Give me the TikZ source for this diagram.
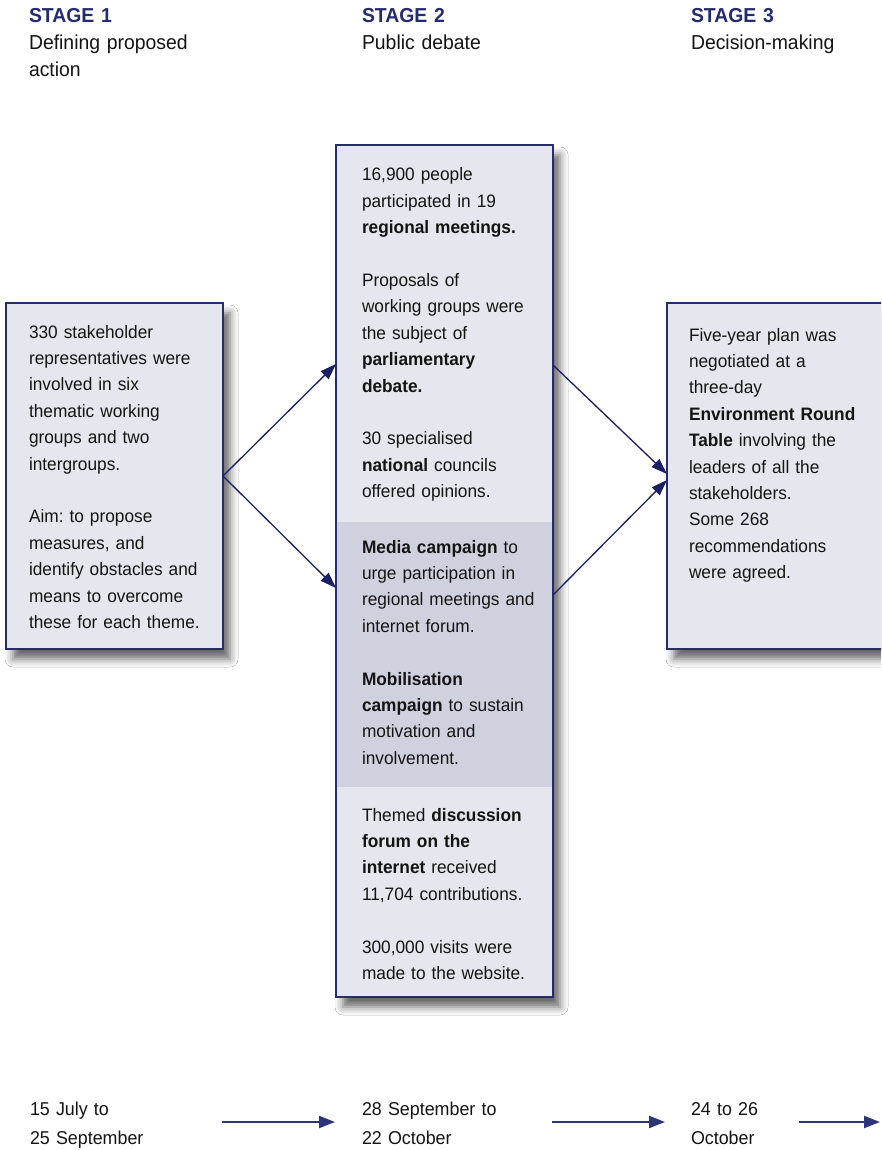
\documentclass[tikz,border=0pt]{standalone}
\usepackage{fontspec}
\setmainfont{Liberation Sans}[FakeStretch=0.96]
\frenchspacing
\usetikzlibrary{arrows.meta,shadows.blur}
\definecolor{navy}{HTML}{262C6C}
\definecolor{headnavy}{HTML}{242B6E}
\definecolor{arrownavy}{HTML}{1B1F63}
\definecolor{datearrow}{HTML}{2E3478}
\definecolor{boxfill}{HTML}{E5E6EE}
\definecolor{bandfill}{HTML}{D0D1DE}
\definecolor{textcol}{HTML}{141414}
\begin{document}
\begin{tikzpicture}[x=1pt,y=-1pt,
  box/.style={draw=navy, line width=1.3pt, fill=boxfill, inner sep=0pt, outer sep=0pt,
    anchor=north west,
    blur shadow={shadow xshift=7pt, shadow yshift=-10pt, shadow blur radius=8pt, shadow opacity=60}},
  txt/.style={anchor=base west, inner sep=0pt, outer sep=0pt, text width=240pt, align=left,
    text=textcol, font=\fontsize{18}{26.4}\selectfont},
  head/.style={anchor=base west, inner sep=0pt, outer sep=0pt, text width=240pt, align=left,
    text=textcol, font=\fontsize{20.2}{27}\selectfont},
  datetxt/.style={anchor=base west, inner sep=0pt, outer sep=0pt, text width=200pt, align=left,
    text=textcol, font=\fontsize{18.6}{29}\selectfont},
  diag/.style={draw=arrownavy, line width=1.3pt, -{Triangle[length=16pt,width=11pt]}},
  datearr/.style={draw=datearrow, line width=2pt, -{Triangle[length=16pt,width=12pt]}}
]
\useasboundingbox (0,0) rectangle (881,1150);
\clip (0,0) rectangle (881,1150);
\fill[white] (0,0) rectangle (881,1150);

% headers
\node[head] (h1) at (29,23) {\textbf{\color{headnavy}STAGE 1}\\Defining proposed\\action};
\node[head] (h2) at (362,23) {\textbf{\color{headnavy}STAGE 2}\\Public debate};
\node[head] (h3) at (691,23) {\textbf{\color{headnavy}STAGE 3}\\Decision-making};

% boxes
\node[box, minimum width=217pt, minimum height=346pt] (b1) at (6,303) {};
\node[box, minimum width=217pt, minimum height=852pt] (b2) at (336,145) {};
\node[box, minimum width=260pt, minimum height=346pt] (b3) at (667,303) {};

% darker band in middle box
\fill[bandfill] (336,522) rectangle (553,787);
\draw[navy, line width=1.3pt] (b2.north west) rectangle (b2.south east);

% box texts
\node[txt] (t1) at (29,338) {330 stakeholder\\representatives were\\involved in six\\thematic working\\groups and two\\intergroups.\\[26.4pt]Aim: to propose\\measures, and\\identify obstacles and\\means to overcome\\these for each theme.};

\node[txt] (t2a) at (362,181) {16,900 people\\participated in 19\\\textbf{regional meetings.}\\[26.4pt]Proposals of\\working groups were\\the subject of\\\textbf{parliamentary}\\\textbf{debate.}\\[26.4pt]30 specialised\\\textbf{national} councils\\offered opinions.};

\node[txt] (t2b) at (362,553) {\textbf{Media campaign} to\\urge participation in\\regional meetings and\\internet forum.\\[26.4pt]\textbf{Mobilisation}\\\textbf{campaign} to sustain\\motivation and\\involvement.};

\node[txt] (t2c) at (362,821) {Themed \textbf{discussion}\\\textbf{forum on the}\\\textbf{internet} received\\11,704 contributions.\\[26.4pt]300,000 visits were\\made to the website.};

\node[txt] (t3) at (689,341) {Five-year plan was\\negotiated at a\\three-day\\\textbf{Environment Round}\\\textbf{Table} involving the\\leaders of all the\\stakeholders.\\Some 268\\recommendations\\were agreed.};

% connectors
\coordinate (p1) at (336,364);
\coordinate (p2) at (336,588);
\coordinate (q1) at (553,365);
\coordinate (q2) at (553,595);
\coordinate (r1) at (667,474);
\coordinate (r2) at (667,480);
\draw[diag] (b1.east) -- (p1);
\draw[diag] (b1.east) -- (p2);
\draw[diag] (q1) -- (r1);
\draw[diag] (q2) -- (r2);

% dates
\node[datetxt] (d1) at (30,1115) {15 July to\\25 September};
\node[datetxt] (d2) at (362,1115) {28 September to\\22 October};
\node[datetxt] (d3) at (691,1115) {24 to 26\\October};

\coordinate (a1s) at (222,1122);
\coordinate (a1e) at (335,1122);
\coordinate (a2s) at (552,1122);
\coordinate (a2e) at (665,1122);
\coordinate (a3s) at (799,1122);
\coordinate (a3e) at (880,1122);
\draw[datearr] (a1s) -- (a1e);
\draw[datearr] (a2s) -- (a2e);
\draw[datearr] (a3s) -- (a3e);
\end{tikzpicture}
\end{document}
